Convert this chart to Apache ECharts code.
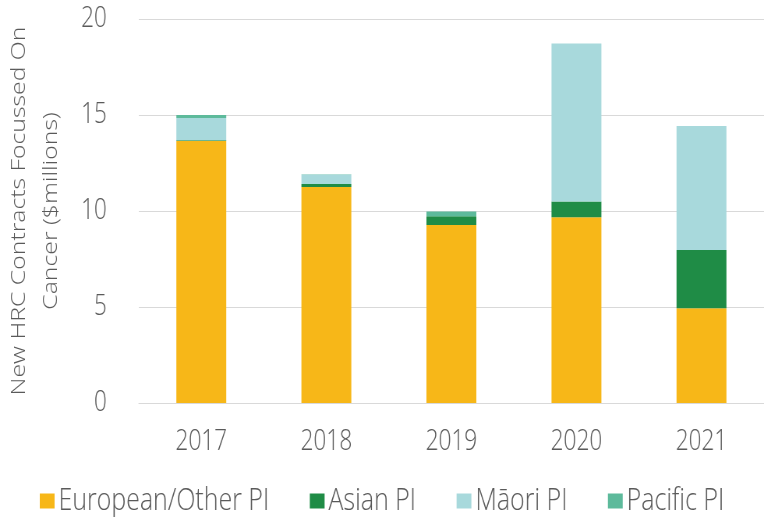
<!DOCTYPE html>
<html><head><meta charset="utf-8">
<script src="https://cdn.jsdelivr.net/npm/echarts@6/dist/echarts.min.js"></script>
<style>
html,body{margin:0;padding:0;background:#fff;width:764px;height:519px;overflow:hidden}
#c{width:980px;height:519px;transform:scaleX(0.7796);transform-origin:0 0}
</style>
</head><body><div id="c"></div>
<script>
const years = ['2017','2018','2019','2020','2021'];
const european = [13.65, 11.25, 9.27, 9.67, 4.93];
const asian = [0.03, 0.15, 0.46, 0.82, 3.04];
const maori = [1.17, 0.5, 0.0, 8.24, 6.46];
const pacific = [0.15, 0.02, 0.25, 0.0, 0.0];
const yTicks = [0, 5, 10, 15, 20];
const seriesNames = ['European/Other PI', 'Asian PI', 'Māori PI', 'Pacific PI'];
const colors = ['#F7B718', '#1F8C46', '#A8D9DC', '#5DBA9B'];
const F = '"Open Sans", "Noto Sans", sans-serif';
const TXT = '#5a5a5a';
const chart = echarts.init(document.getElementById('c'));
const data = [european, asian, maori, pacific];
chart.setOption({
  animation: false,
  color: colors,
  grid: {left: 178, right: 0, top: 19, bottom: 116, containLabel: false, outerBoundsMode: 'none'},
  legend: {
    top: 480, left: 'center', itemWidth: 19, itemHeight: 15, itemGap: 52, icon: 'rect',
    textStyle: {fontFamily: F, fontSize: 32, color: TXT, fontWeight: 300},
    data: seriesNames
  },
  xAxis: {
    type: 'category', data: years,
    axisTick: {show: false},
    axisLine: {lineStyle: {color: '#d9d9d9'}},
    axisLabel: {fontFamily: F, fontSize: 29, color: TXT, fontWeight: 300, margin: 24}
  },
  yAxis: {
    type: 'value', min: yTicks[0], max: yTicks[yTicks.length - 1], interval: 5,
    name: 'New HRC Contracts Focussed On\nCancer ($millions)',
    nameLocation: 'middle', nameRotate: 90, nameGap: 92,
    nameTextStyle: {fontFamily: F, fontSize: 24.8, color: TXT, fontWeight: 300, lineHeight: 41},
    axisLabel: {fontFamily: F, fontSize: 29, color: TXT, fontWeight: 300, margin: 41},
    splitLine: {lineStyle: {color: '#d9d9d9'}},
    axisLine: {show: false}, axisTick: {show: false}
  },
  series: seriesNames.map((n, i) => ({
    name: n, type: 'bar', stack: 'a', barWidth: 64, data: data[i]
  }))
});
</script></body></html>
